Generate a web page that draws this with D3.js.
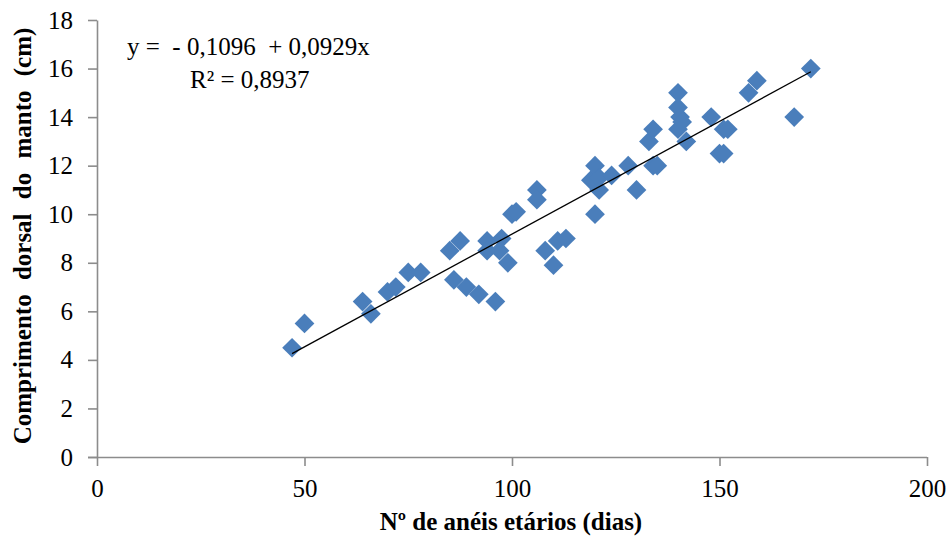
<!DOCTYPE html>
<html>
<head>
<meta charset="utf-8">
<script src="https://cdn.jsdelivr.net/npm/d3@7"></script>
<style>
  body { margin: 0; background: #fff; }
  svg { display: block; }
</style>
</head>
<body>
<svg></svg>
<script>
// age rings (days) vs dorsal mantle length (cm)
let xValues = [47, 50, 64, 66, 70, 72, 75, 78, 85, 87.5, 86, 89, 92, 94, 94, 96, 97, 97.5, 99,
  100, 101, 106, 106, 108, 110, 111, 113, 119, 120, 120, 121, 121, 124, 128, 130,
  133, 134, 134, 135, 140, 140, 140.5, 140, 141, 142, 148, 150, 151, 152, 151, 157, 159, 168, 172]
let yValues = [4.5, 5.5, 6.4, 5.9, 6.8, 7.0, 7.6, 7.6, 8.5, 8.9, 7.3, 7.0, 6.7, 8.9, 8.5, 6.4, 8.5, 9.0, 8.0,
  10, 10.1, 11, 10.6, 8.5, 7.9, 8.9, 9.0, 11.4, 12, 10, 11, 11.5, 11.6, 12, 11,
  13, 13.5, 12, 12, 15, 14.4, 14, 13.5, 13.8, 13, 14, 12.5, 13.5, 13.5, 12.5, 15, 15.5, 14, 16]

let xTicks = [0, 50, 100, 150, 200]
let yTicks = [0, 2, 4, 6, 8, 10, 12, 14, 16, 18]

// trend line coefficients
let intercept = -0.1096
let slope = 0.0929

let width = 948
let height = 543

let svg = d3.select('svg')
  .attr('width', width)
  .attr('height', height)

let xScale = d3.scaleLinear().domain([0, 200]).range([97, 927])
let yScale = d3.scaleLinear().domain([0, 18]).range([457, 20])

let axisColor = '#8c8c8c'
let font = '"Liberation Serif", "Times New Roman", serif'

let xAxis = d3.axisBottom(xScale)
  .tickValues(xTicks)
  .tickSize(9)
  .tickSizeOuter(0)

let yAxis = d3.axisLeft(yScale)
  .tickValues(yTicks)
  .tickSize(9)
  .tickSizeOuter(0)

let gx = svg.append('g')
  .attr('transform', 'translate(0,' + yScale(0) + ')')
  .call(xAxis)

let gy = svg.append('g')
  .attr('transform', 'translate(' + xScale(0) + ',0)')
  .call(yAxis)

;[gx, gy].forEach(g => {
  g.selectAll('path, line').attr('stroke', axisColor).attr('stroke-width', 1.6)
  g.selectAll('text')
    .attr('fill', '#000')
    .style('font-family', font)
    .style('font-size', '25px')
})
gx.selectAll('text').attr('dy', null).attr('y', 40)
gy.selectAll('text').attr('x', -24)
// x axis line starts a bit left of the y axis like the original
gx.select('.domain').attr('d', 'M' + (xScale(0) - 9) + ',0.5H' + xScale(200))

// points as diamonds
let points = xValues.map((x, i) => ({ x: x, y: yValues[i] }))
let diamond = d3.symbol().type(d3.symbolSquare).size(195)

svg.selectAll('.dot')
  .data(points)
  .enter()
  .append('path')
  .attr('class', 'dot')
  .attr('d', diamond)
  .attr('transform', d => 'translate(' + xScale(d.x) + ',' + yScale(d.y) + ') rotate(45)')
  .attr('fill', '#4a7ebb')

// linear trend line
let xMin = d3.min(xValues)
let xMax = d3.max(xValues)
svg.append('line')
  .attr('x1', xScale(xMin))
  .attr('y1', yScale(intercept + slope * xMin))
  .attr('x2', xScale(xMax))
  .attr('y2', yScale(intercept + slope * xMax))
  .attr('stroke', '#000')
  .attr('stroke-width', 1.3)

// equation
svg.append('text')
  .attr('x', 127)
  .attr('y', 55)
  .style('font-family', font)
  .style('font-size', '25px')
  .style('white-space', 'pre')
  .text('y =  - 0,1096  + 0,0929x')

svg.append('text')
  .attr('x', 190)
  .attr('y', 88)
  .style('font-family', font)
  .style('font-size', '25px')
  .text('R² = 0,8937')

// axis titles
svg.append('text')
  .attr('x', 511)
  .attr('y', 530)
  .attr('text-anchor', 'middle')
  .style('font-family', font)
  .style('font-size', '25px')
  .style('font-weight', 'bold')
  .text('Nº de anéis etários (dias)')

svg.append('text')
  .attr('transform', 'translate(31,236) rotate(-90)')
  .attr('text-anchor', 'middle')
  .style('font-family', font)
  .style('font-size', '25px')
  .style('font-weight', 'bold')
  .style('word-spacing', '8px')
  .text('Comprimento dorsal do manto (cm)')
</script>
</body>
</html>
